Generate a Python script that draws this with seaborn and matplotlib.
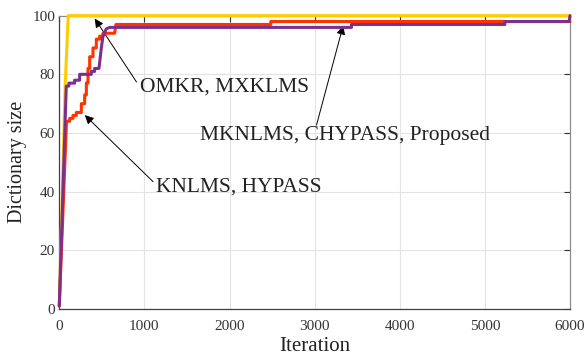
import numpy as np
import pandas as pd
import seaborn as sns
import matplotlib
matplotlib.use("Agg")
import matplotlib.pyplot as plt

# Dictionary size vs iteration (corner points of the staircase curves)
omkr_iter = [0, 70, 105, 6000]
omkr_size = [1, 77, 100, 100]

knlms_iter = [0, 85, 122, 122, 161, 161, 200, 200, 259, 259, 298, 298, 318, 318,
              337, 337, 357, 357, 396, 396, 435, 435, 474, 474, 513, 513, 650, 665,
              2485, 2485, 6000]
knlms_size = [1, 64, 64, 65, 65, 66, 66, 67, 67, 70, 70, 73, 73, 77,
              77, 82, 82, 86, 86, 89, 89, 92, 92, 93, 93, 94, 94, 97,
              97, 98, 98]

prop_iter = [0, 82, 113, 113, 180, 180, 239, 239, 376, 376, 415, 415, 466, 494,
             513, 552, 591, 3433, 3433, 5235, 5235, 5990, 6000]
prop_size = [1, 76, 76, 77, 77, 78, 78, 80, 80, 81, 81, 82, 82, 89,
             93, 95.5, 96, 96, 97, 97, 98, 98, 100]

x_ticks = [0, 1000, 2000, 3000, 4000, 5000, 6000]
y_ticks = [0, 20, 40, 60, 80, 100]

sns.set_style("whitegrid")
plt.rcParams['font.family'] = ['Liberation Serif', 'DejaVu Serif']

fig = plt.figure(figsize=(5.87, 3.56), dpi=100)
ax = fig.add_axes([0.101, 0.132, 0.870, 0.824])

series = [(omkr_iter, omkr_size, "#FFCC00"),
          (knlms_iter, knlms_size, "#FF3300"),
          (prop_iter, prop_size, "#7E2F8E")]
for xs, ys, col in series:
    sns.lineplot(x=xs, y=ys, color=col, lw=2.2, sort=False, estimator=None,
                 ax=ax, clip_on=False, zorder=5)

ax.set_xlim(0, 6000)
ax.set_ylim(0, 100)
ax.set_xticks(x_ticks)
ax.set_yticks(y_ticks)
ax.grid(True, color="#E3E3E3", lw=0.8)
ax.set_axisbelow(True)

ax.tick_params(direction="in", length=4, width=0.8, colors="#333333",
               labelsize=11, top=True, right=True)
ax.tick_params(axis="x", pad=8)
ax.tick_params(axis="y", pad=3)
for side in ["left", "bottom"]:
    ax.spines[side].set_color("#404040")
    ax.spines[side].set_linewidth(0.9)
for side in ["right", "top"]:
    ax.spines[side].set_color("#8C8C8C")
    ax.spines[side].set_linewidth(0.9)

ax.set_xlabel("Iteration", fontsize=15, color="#222222", labelpad=3)
ax.set_ylabel("Dictionary size", fontsize=14.5, color="#222222", labelpad=4)

# Annotations
arrow = dict(arrowstyle="-|>", color="black", lw=0.7, mutation_scale=13,
             shrinkA=0, shrinkB=0)
ax.annotate("", xy=(417, 99.0), xytext=(907, 77.4), arrowprops=arrow)
ax.text(946, 75.5, "OMKR, MXKLMS", fontsize=15.5, va="center", ha="left",
        color="#222222")

ax.annotate("", xy=(300, 66.1), xytext=(1102, 43.4), arrowprops=arrow)
ax.text(1142, 41.6, "KNLMS, HYPASS", fontsize=15.5, va="center", ha="left",
        color="#222222")

ax.annotate("", xy=(3335, 96.6), xytext=(3022, 62.7), arrowprops=arrow)
ax.text(1651, 59.3, "MKNLMS, CHYPASS, Proposed", fontsize=15.5, va="center",
        ha="left", color="#222222")

fig.savefig("out.png", dpi=100)
